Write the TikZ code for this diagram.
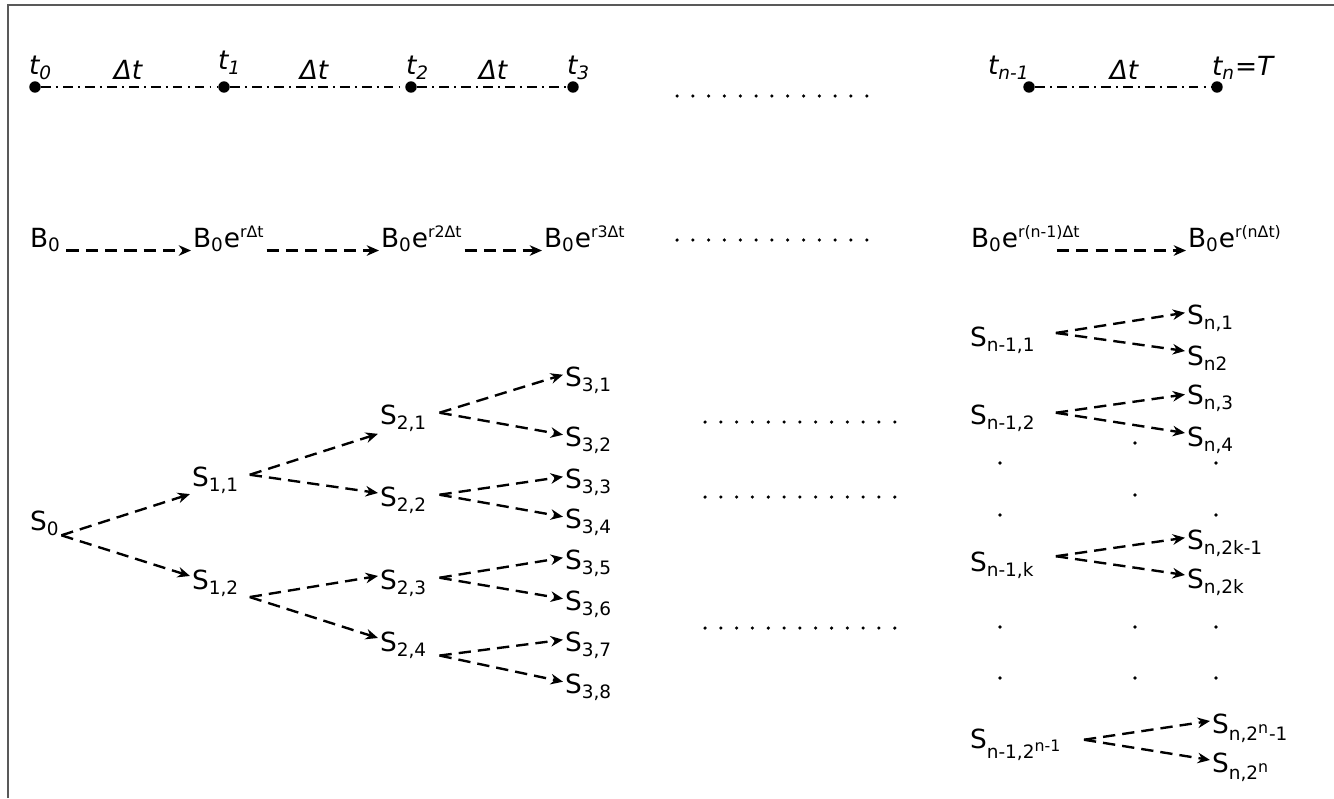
\documentclass[tikz,border=0pt,12pt]{standalone}
\usepackage{fontspec}
\setmainfont{DejaVu Sans}
\usetikzlibrary{arrows.meta}
\newcommand\lowr[1]{\textsubscript{\fontsize{10.5}{12}\selectfont #1}}
\newcommand\upr[1]{\textsuperscript{\fontsize{9}{10}\selectfont #1}}
\tikzset{
  every node/.style={font=\fontsize{15}{18}\selectfont},
  lbl/.style={inner sep=1pt, anchor=west},
  blbl/.style={inner sep=1pt, anchor=base west},
  tlbl/.style={inner sep=1pt, font=\fontsize{15}{18}\selectfont\itshape},
  tdot/.style={circle, fill, inner sep=0pt, minimum size=6.5pt},
  tline/.style={line width=1.3pt, dash pattern=on 5.5pt off 3pt on 1pt off 3pt},
  arr/.style={-{Stealth[length=7pt,width=6pt]}, line width=1.35pt, dash pattern=on 7pt off 4pt},
  dotrow/.style={line width=2pt, line cap=round, dash pattern=on 0pt off 9pt},
}
\begin{document}
\begin{tikzpicture}[x=0.02cm, y=-0.02cm]
                \useasboundingbox (0,0) rectangle (1334,798);
                \draw[line width=1.3pt, black!65] (8,798) -- (8,5) -- (1334,5);
                % time axis
                \node[tdot] (d0) at (35,87) {};
                \node[tdot] (d1) at (224,87) {};
                \node[tdot] (d2) at (411,87) {};
                \node[tdot] (d3) at (573,87) {};
                \node[tdot] (dn1) at (1029,87) {};
                \node[tdot] (dn) at (1217,87) {};
                \draw[tline] (d0) -- (d1) -- (d2) -- (d3);
                \draw[tline] (dn1) -- (dn);
                \node[tlbl, anchor=west] (lt0) at (27,68) {t\lowr{0}};
                \node[tlbl, anchor=west] (lt1) at (216,63) {t\lowr{1}};
                \node[tlbl, anchor=west] (lt2) at (404,68) {t\lowr{2}};
                \node[tlbl, anchor=west] (lt3) at (565,68) {t\lowr{3}};
                \node[tlbl, anchor=west] (ltn1) at (986,68) {t\lowr{n-1}};
                \node[tlbl, anchor=west] (ltn) at (1210,68) {t\lowr{n}=T};
                \node[tlbl] (dt1) at (128,70) {Δt};
                \node[tlbl] (dt2) at (314,70) {Δt};
                \node[tlbl] (dt3) at (493,70) {Δt};
                \node[tlbl] (dtn) at (1124,70) {Δt};
                % bond
                \node[blbl] (b0) at (28,247) {B\lowr{0}};
                \node[blbl] (b1) at (191,247) {B\lowr{0}e\upr{rΔt}};
                \node[blbl] (b2) at (379,247) {B\lowr{0}e\upr{r2Δt}};
                \node[blbl] (b3) at (542,247) {B\lowr{0}e\upr{r3Δt}};
                \node[blbl] (bn1) at (969,247) {B\lowr{0}e\upr{r(n-1)Δt}};
                \node[blbl] (bn) at (1186,247) {B\lowr{0}e\upr{r(nΔt)}};
                \draw[arr] ([xshift=2pt,yshift=-2pt]b0.base east) -- ([yshift=-2pt]b1.base west);
                \draw[arr] ([yshift=-2pt]b1.base east) -- ([yshift=-2pt]b2.base west);
                \draw[arr] ([yshift=-2pt]b2.base east) -- ([yshift=-2pt]b3.base west);
                \draw[arr] ([xshift=50pt,yshift=-2pt]bn1.base west) -- ([yshift=-2pt]bn.base west);
                % stock tree
                \node[lbl] (s0) at (28,523) {S\lowr{0}};
                \node[lbl] (s11) at (190,480) {S\lowr{1,1}};
                \node[lbl] (s12) at (190,583) {S\lowr{1,2}};
                \node[lbl] (s21) at (378,418) {S\lowr{2,1}};
                \node[lbl] (s22) at (378,500) {S\lowr{2,2}};
                \node[lbl] (s23) at (378,583) {S\lowr{2,3}};
                \node[lbl] (s24) at (378,645) {S\lowr{2,4}};
                \node[lbl] (s31) at (563,380) {S\lowr{3,1}};
                \node[lbl] (s32) at (563,440) {S\lowr{3,2}};
                \node[lbl] (s33) at (563,482) {S\lowr{3,3}};
                \node[lbl] (s34) at (563,522) {S\lowr{3,4}};
                \node[lbl] (s35) at (563,563) {S\lowr{3,5}};
                \node[lbl] (s36) at (563,604) {S\lowr{3,6}};
                \node[lbl] (s37) at (563,645) {S\lowr{3,7}};
                \node[lbl] (s38) at (563,687) {S\lowr{3,8}};
                \draw[arr] ([xshift=19pt,yshift=-7pt]s0.west) -- ([yshift=-8pt]s11.west);
                \draw[arr] ([xshift=19pt,yshift=-7pt]s0.west) -- ([yshift=4pt]s12.west);
                \draw[arr] ([xshift=34pt,yshift=3pt]s11.west) -- ([yshift=-9pt]s21.west);
                \draw[arr] ([xshift=34pt,yshift=3pt]s11.west) -- ([yshift=4pt]s22.west);
                \draw[arr] ([xshift=34pt,yshift=-8pt]s12.west) -- ([yshift=4pt]s23.west);
                \draw[arr] ([xshift=34pt,yshift=-8pt]s12.west) -- ([yshift=4pt]s24.west);
                \draw[arr] ([xshift=35pt,yshift=3pt]s21.west) -- ([yshift=3pt]s31.west);
                \draw[arr] ([xshift=35pt,yshift=3pt]s21.west) -- ([yshift=3pt]s32.west);
                \draw[arr] ([xshift=35pt,yshift=3pt]s22.west) -- ([yshift=3pt]s33.west);
                \draw[arr] ([xshift=35pt,yshift=3pt]s22.west) -- ([yshift=3pt]s34.west);
                \draw[arr] ([xshift=35pt,yshift=3pt]s23.west) -- ([yshift=3pt]s35.west);
                \draw[arr] ([xshift=35pt,yshift=3pt]s23.west) -- ([yshift=3pt]s36.west);
                \draw[arr] ([xshift=35pt,yshift=-6pt]s24.west) -- ([yshift=3pt]s37.west);
                \draw[arr] ([xshift=35pt,yshift=-6pt]s24.west) -- ([yshift=3pt]s38.west);
                % last step
                \node[lbl] (sa) at (968,340) {S\lowr{n-1,1}};
                \node[lbl] (sa1) at (1185,318) {S\lowr{n,1}};
                \node[lbl] (sa2) at (1185,358) {S\lowr{n2}};
                \node[lbl] (sb) at (968,418) {S\lowr{n-1,2}};
                \node[lbl] (sb1) at (1185,398) {S\lowr{n,3}};
                \node[lbl] (sb2) at (1185,440) {S\lowr{n,4}};
                \node[lbl] (sk) at (968,565) {S\lowr{n-1,k}};
                \node[lbl] (sk1) at (1185,543) {S\lowr{n,2k-1}};
                \node[lbl] (sk2) at (1185,582) {S\lowr{n,2k}};
                \node[lbl] (sm) at (968,745) {S\lowr{n-1,2\upr{n-1}}};
                \node[lbl] (sm1) at (1210,728) {S\lowr{n,2\upr{n}-1}};
                \node[lbl] (sm2) at (1210,767) {S\lowr{n,2\upr{n}}};
                \draw[arr] ([xshift=50pt,yshift=4pt]sa.west) -- ([yshift=3pt]sa1.west);
                \draw[arr] ([xshift=50pt,yshift=4pt]sa.west) -- ([yshift=4pt]sa2.west);
                \draw[arr] ([xshift=50pt,yshift=3pt]sb.west) -- ([yshift=2pt]sb1.west);
                \draw[arr] ([xshift=50pt,yshift=3pt]sb.west) -- ([yshift=4pt]sb2.west);
                \draw[arr] ([xshift=50pt,yshift=5pt]sk.west) -- ([yshift=3pt]sk1.west);
                \draw[arr] ([xshift=50pt,yshift=5pt]sk.west) -- ([yshift=4pt]sk2.west);
                \draw[arr] ([xshift=66pt,yshift=3pt]sm.west) -- ([yshift=4pt]sm1.west);
                \draw[arr] ([xshift=66pt,yshift=3pt]sm.west) -- ([yshift=4pt]sm2.west);
                % ellipses
                \draw[dotrow] (677,96) -- (870,96);
                \draw[dotrow] (677,240) -- (870,240);
                \draw[dotrow] (705,422) -- (897,422);
                \draw[dotrow] (705,497) -- (897,497);
                \draw[dotrow] (705,628) -- (897,628);
                \foreach \x/\y in {1000/463, 1000/515, 1135/443, 1135/495, 1216/463, 1216/515,
                                   1000/627, 1000/678, 1135/627, 1135/678, 1216/627, 1216/678}
                  \fill (\x,\y) circle[radius=1.1pt];
            \end{tikzpicture}
\end{document}
